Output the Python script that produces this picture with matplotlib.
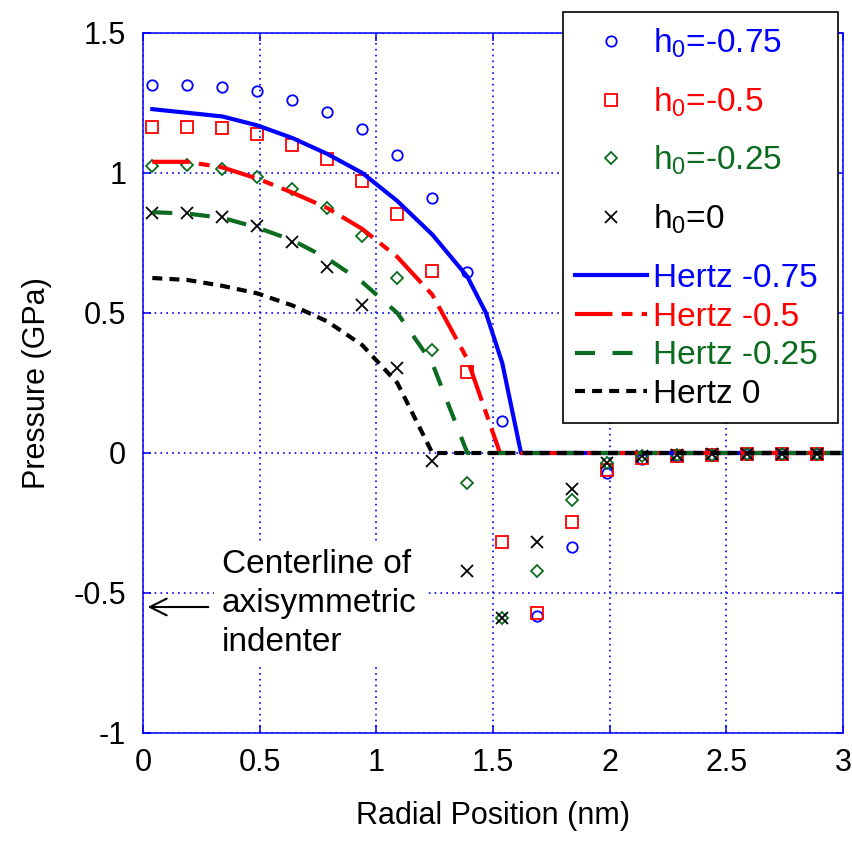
import matplotlib
matplotlib.use('Agg')
import matplotlib.pyplot as plt
from matplotlib.patches import Rectangle

plt.rcParams['font.family'] = ['Liberation Sans', 'DejaVu Sans']
plt.rcParams['mathtext.fontset'] = 'custom'
plt.rcParams['mathtext.rm'] = 'Liberation Sans'
plt.rcParams['mathtext.it'] = 'Liberation Sans:italic'
plt.rcParams['axes.unicode_minus'] = False

# ---------------- data ----------------
x_pts = [0.04, 0.19, 0.34, 0.49, 0.64, 0.79, 0.94, 1.09, 1.24, 1.39,
         1.54, 1.69, 1.84, 1.99, 2.14, 2.29, 2.44, 2.59, 2.74, 2.89]
h_075 = [1.314, 1.314, 1.308, 1.294, 1.261, 1.219, 1.157, 1.064, 0.911, 0.646,
         0.113, -0.583, -0.337, -0.071, -0.020, -0.012, -0.008, -0.005, -0.004, -0.003]
h_050 = [1.165, 1.165, 1.160, 1.139, 1.100, 1.050, 0.971, 0.854, 0.651, 0.290,
         -0.317, -0.571, -0.246, -0.061, -0.017, -0.010, -0.007, -0.005, -0.004, -0.003]
h_025 = [1.025, 1.029, 1.014, 0.986, 0.943, 0.875, 0.775, 0.625, 0.368, -0.107,
         -0.589, -0.421, -0.168, -0.036, -0.012, -0.008, -0.006, -0.004, -0.003, -0.002]
h_000 = [0.857, 0.857, 0.844, 0.811, 0.755, 0.665, 0.529, 0.304, -0.027, -0.421,
         -0.589, -0.317, -0.129, -0.035, -0.010, -0.007, -0.005, -0.004, -0.003, -0.002]

hz_x_075 = [0.04, 0.19, 0.34, 0.49, 0.64, 0.79, 0.94, 1.09, 1.24, 1.39, 1.47, 1.54, 1.62, 3.0]
hz_075 = [1.228, 1.215, 1.202, 1.170, 1.125, 1.068, 1.000, 0.900, 0.780, 0.630, 0.500, 0.320, 0.0, 0.0]
hz_x_050 = [0.04, 0.19, 0.34, 0.49, 0.64, 0.79, 0.94, 1.09, 1.24, 1.39, 1.53, 3.0]
hz_050 = [1.040, 1.040, 1.020, 0.980, 0.930, 0.875, 0.800, 0.700, 0.565, 0.335, 0.0, 0.0]
hz_x_025 = [0.04, 0.19, 0.34, 0.49, 0.64, 0.79, 0.94, 1.09, 1.24, 1.39, 3.0]
hz_025 = [0.860, 0.855, 0.840, 0.805, 0.760, 0.695, 0.610, 0.500, 0.320, 0.0, 0.0]
hz_x_000 = [0.04, 0.19, 0.34, 0.49, 0.64, 0.79, 0.94, 1.09, 1.24, 3.0]
hz_000 = [0.625, 0.618, 0.597, 0.570, 0.527, 0.470, 0.385, 0.250, 0.0, 0.0]

marker_labels = [r'h$_{\mathrm{0}}$=-0.75', r'h$_{\mathrm{0}}$=-0.5',
                 r'h$_{\mathrm{0}}$=-0.25', r'h$_{\mathrm{0}}$=0']
line_labels = ['Hertz -0.75', 'Hertz -0.5', 'Hertz -0.25', 'Hertz 0']

xticks = [0, 0.5, 1, 1.5, 2, 2.5, 3]
xticklabels = ['0', '0.5', '1', '1.5', '2', '2.5', '3']
yticks = [-1, -0.5, 0, 0.5, 1, 1.5]
yticklabels = ['-1', '-0.5', '0', '0.5', '1', '1.5']

BLUE = '#0000ff'
RED = '#ff0000'
GREEN = '#0b6b1e'
BLACK = '#000000'

# ---------------- figure ----------------
W, H = 853, 842
fig = plt.figure(figsize=(W / 100, H / 100), dpi=100)
ax = fig.add_axes([143 / W, 1 - 733 / H, 700 / W, 700 / H])

m1, = ax.plot(x_pts, h_075, linestyle='none', marker='o', ms=7.5, mfc='none',
              mec=BLUE, mew=1.3)
m2, = ax.plot(x_pts, h_050, linestyle='none', marker='s', ms=9, mfc='none',
              mec=RED, mew=1.3)
m3, = ax.plot(x_pts, h_025, linestyle='none', marker='D', ms=6.5, mfc='none',
              mec=GREEN, mew=1.3)
m4, = ax.plot(x_pts, h_000, linestyle='none', marker='x', ms=9, mfc='none',
              mec=BLACK, mew=1.3)

l1, = ax.plot(hz_x_075, hz_075, color=BLUE, lw=3, linestyle='-')
l2, = ax.plot(hz_x_050, hz_050, color=RED, lw=3, linestyle=(0, (9, 2.2, 2.6, 2.2)))
l3, = ax.plot(hz_x_025, hz_025, color=GREEN, lw=3, linestyle=(0, (4.8, 4.2)))
l4, = ax.plot(hz_x_000, hz_000, color=BLACK, lw=3, linestyle=(0, (2.4, 1.7)))

ax.set_xlim(0, 3)
ax.set_ylim(-1, 1.5)
ax.set_xticks(xticks)
ax.set_xticklabels(xticklabels)
ax.set_yticks(yticks)
ax.set_yticklabels(yticklabels)

ax.grid(True, color=BLUE, linestyle=(0, (1, 2.5)), linewidth=1.2)
ax.set_axisbelow(True)
for sp in ax.spines.values():
    sp.set_color(BLUE)
    sp.set_linewidth(1.1)
ax.tick_params(which='both', direction='in', length=6, width=1.1, color=BLUE,
               top=True, right=True, labelsize=22, labelcolor='black')
ax.tick_params(axis='x', pad=11)
ax.tick_params(axis='y', pad=12)

ax.set_xlabel('Radial Position (nm)', fontsize=22)
ax.set_ylabel('Pressure (GPa)', fontsize=22)
ax.xaxis.set_label_coords(0.5, -0.097)
ax.yaxis.set_label_coords(-0.13, 0.5)

# annotation
ax.text(0.339, -0.538, 'Centerline of\naxisymmetric\nindenter', fontsize=24,
        ha='left', va='center', linespacing=1.33, zorder=3,
        bbox=dict(boxstyle='square,pad=0.25', facecolor='white', edgecolor='none'))
ax.annotate('', xy=(0.02, -0.55), xytext=(0.28, -0.55),
            arrowprops=dict(arrowstyle='->', color='black', lw=1.5,
                            mutation_scale=30, shrinkA=0, shrinkB=0), zorder=3)

# legend frame
frame = Rectangle((563 / W, 1 - 423 / H), 275 / W, 411 / H, transform=fig.transFigure,
                  facecolor='white', edgecolor='black', lw=1.2, zorder=4, clip_on=False)
ax.add_artist(frame)

leg1 = ax.legend([m1, m2, m3, m4], marker_labels, loc='upper left',
                 bbox_to_anchor=(575 / W, 1 - 27 / H), bbox_transform=fig.transFigure,
                 frameon=False, fontsize=24, borderpad=0, borderaxespad=0,
                 handlelength=2.16, handletextpad=0.18, labelspacing=0.75,
                 labelcolor=[BLUE, RED, GREEN, BLACK], numpoints=1)
leg1.set_zorder(5)
ax.add_artist(leg1)
leg2 = ax.legend([l1, l2, l3, l4], line_labels, loc='upper left',
                 bbox_to_anchor=(575 / W, 1 - 263 / H), bbox_transform=fig.transFigure,
                 frameon=False, fontsize=24, borderpad=0, borderaxespad=0,
                 handlelength=2.16, handletextpad=0.18, labelspacing=0.23,
                 labelcolor=[BLUE, RED, GREEN, BLACK])
leg2.set_zorder(5)

fig.savefig('out.png', dpi=100)
